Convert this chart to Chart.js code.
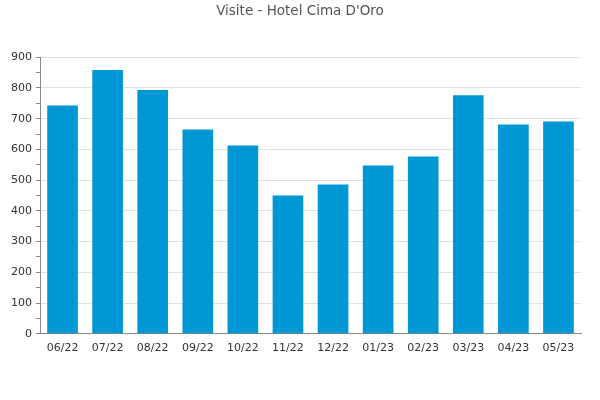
<!DOCTYPE html>
<html>
<head>
<meta charset="utf-8">
<script src="https://cdn.jsdelivr.net/npm/chart.js@4/dist/chart.umd.min.js"></script>
<style>
  html, body { margin: 0; padding: 0; background: #fff; }
  #wrap { width: 600px; height: 400px; }
</style>
</head>
<body>
<div id="wrap"><canvas id="c" width="600" height="400"></canvas></div>
<script>
const chartTitle = "Visite - Hotel Cima D'Oro";
const categories = ["06/22", "07/22", "08/22", "09/22", "10/22", "11/22", "12/22", "01/23", "02/23", "03/23", "04/23", "05/23"];
const visits = [743, 858, 793, 665, 613, 450, 486, 548, 577, 776, 681, 691];
const yMin = 0;
const yMax = 900;
const yMajorStep = 100;
const yMinorStep = 50;

Chart.defaults.font.family = "'DejaVu Sans', sans-serif";

const widenYLabelArea = {
  id: 'widenYLabelArea',
  afterLayout(chart) {
    const y = chart.scales.y;
    if (y) { y.left = 0; }
  }
};

new Chart(document.getElementById('c'), {
  type: 'bar',
  data: {
    labels: categories,
    datasets: [{
      data: visits,
      backgroundColor: '#0097d5',
      borderWidth: 0,
      barPercentage: 0.68,
      categoryPercentage: 1.0
    }]
  },
  plugins: [widenYLabelArea],
  options: {
    responsive: false,
    animation: false,
    devicePixelRatio: 1,
    layout: { padding: { left: 19, right: 19, top: 3, bottom: 37 } },
    plugins: {
      legend: { display: false },
      tooltip: { enabled: false },
      title: {
        display: true,
        text: chartTitle,
        color: '#555',
        font: { size: 13.5, weight: 'normal' },
        padding: { top: 0, bottom: 38 }
      }
    },
    scales: {
      x: {
        grid: { display: false, drawTicks: false },
        border: { color: '#888', width: 1 },
        ticks: { color: '#333', font: { size: 11 }, padding: 8 }
      },
      y: {
        min: yMin,
        max: yMax,
        afterFit: (scale) => { scale.width = 21; },
        ticks: {
          stepSize: yMinorStep,
          color: '#333',
          font: { size: 11 },
          padding: 4,
          autoSkip: false,
          callback: (v) => (v % yMajorStep === 0 ? v : '')
        },
        grid: {
          color: (ctx) => (ctx.tick && ctx.tick.value % yMajorStep === 0 && ctx.tick.value !== 0 ? '#e2e2e2' : 'rgba(0,0,0,0)'),
          tickColor: '#888',
          tickLength: 4,
          drawTicks: true
        },
        border: { color: '#888', width: 1 }
      }
    }
  }
});
</script>
</body>
</html>
